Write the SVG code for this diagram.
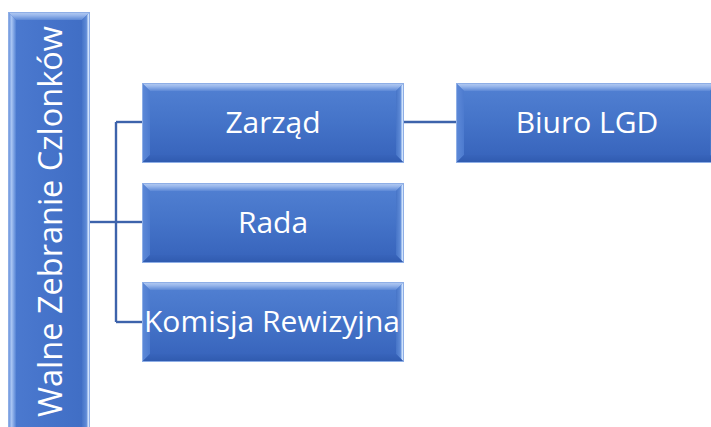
<svg xmlns="http://www.w3.org/2000/svg" xmlns:xlink="http://www.w3.org/1999/xlink" width="711" height="427" viewBox="0 0 711 427">
<defs>
<linearGradient id="gBase" x1="0" y1="0" x2="0" y2="1">
<stop offset="0" stop-color="#5281d3"/>
<stop offset="0.5" stop-color="#4473c8"/>
<stop offset="1" stop-color="#3662ba"/>
</linearGradient>
<linearGradient id="gTop" x1="0" y1="0" x2="0" y2="1">
<stop offset="0" stop-color="#b7cdf2"/>
<stop offset="0.4" stop-color="#9ab8ec"/>
<stop offset="1" stop-color="#5c88d6"/>
</linearGradient>
<linearGradient id="gLeft" x1="0" y1="0" x2="1" y2="0">
<stop offset="0" stop-color="#5e8ad8"/>
<stop offset="1" stop-color="#4d7bcf"/>
</linearGradient>
<linearGradient id="gRight" x1="0" y1="0" x2="1" y2="0">
<stop offset="0" stop-color="#4674c7"/>
<stop offset="0.55" stop-color="#5f8bd7"/>
<stop offset="0.8" stop-color="#d6e8ff"/>
<stop offset="1" stop-color="#6f97dc"/>
</linearGradient>
<linearGradient id="gBottom" x1="0" y1="0" x2="0" y2="1">
<stop offset="0" stop-color="#3864bb"/>
<stop offset="1" stop-color="#2f5aae"/>
</linearGradient>
<linearGradient id="gVLeft" x1="0" y1="0" x2="1" y2="0">
<stop offset="0" stop-color="#5a86d6"/>
<stop offset="0.45" stop-color="#a9c5f3"/>
<stop offset="1" stop-color="#5482d4"/>
</linearGradient>
<linearGradient id="gVBase" x1="0" y1="0" x2="1" y2="0">
<stop offset="0" stop-color="#4c7ad0"/>
<stop offset="1" stop-color="#3f6dc4"/>
</linearGradient>
<g id="bevelBox">
<rect x="0" y="0" width="262" height="80" fill="url(#gBase)"/>
<polygon points="0,0 262,0 254,8 8,8" fill="url(#gTop)"/>
<polygon points="0,0 8,8 8,72 0,80" fill="url(#gLeft)"/>
<polygon points="262,0 262,80 254,72 254,8" fill="url(#gRight)"/>
<polygon points="0,80 262,80 254,72 8,72" fill="url(#gBottom)"/>
<rect x="0.5" y="0.5" width="261" height="79" fill="none" stroke="#8eaee6" stroke-width="1"/>
</g>
</defs>
<style>
.lbl{font-family:"Open Sans","Noto Sans","DejaVu Sans",sans-serif;font-size:30px;fill:#ffffff;text-anchor:middle}
.vlbl{font-family:"Open Sans","Noto Sans","DejaVu Sans",sans-serif;font-size:32.5px;fill:#ffffff;text-anchor:middle}
.conn{fill:none;stroke:#3d63ab;stroke-width:2.4}
</style>

<g id="connectors">
<path class="conn" d="M90,222 H116"/>
<path class="conn" d="M116,122 V322"/>
<path class="conn" d="M116,122 H142"/>
<path class="conn" d="M116,222 H142"/>
<path class="conn" d="M116,322 H142"/>
<path class="conn" d="M404,122 H456"/>
</g>

<g id="walne">
<rect x="8" y="12" width="82" height="425" fill="url(#gVBase)"/>
<polygon points="8,12 90,12 82,20 16,20" fill="url(#gTop)"/>
<polygon points="8,12 16,20 16,437 8,437" fill="url(#gVLeft)"/>
<polygon points="90,12 90,437 82,437 82,20" fill="url(#gRight)"/>
<rect x="8.5" y="12.5" width="81" height="424" fill="none" stroke="#8eaee6" stroke-width="1"/>
<text class="vlbl" transform="translate(61.5,221.5) rotate(-90)">Walne Zebranie Czlonków</text>
</g>

<g id="zarzad">
<use xlink:href="#bevelBox" x="142" y="83"/>
<text class="lbl" x="273" y="132.5">Zarząd</text>
</g>

<g id="rada">
<use xlink:href="#bevelBox" x="142" y="183"/>
<text class="lbl" x="273" y="232.5">Rada</text>
</g>

<g id="komisja">
<use xlink:href="#bevelBox" x="142" y="282"/>
<text class="lbl" x="272" y="331.5">Komisja Rewizyjna</text>
</g>

<g id="biuro">
<use xlink:href="#bevelBox" x="456" y="83"/>
<text class="lbl" x="587" y="132.5">Biuro LGD</text>
</g>
</svg>
